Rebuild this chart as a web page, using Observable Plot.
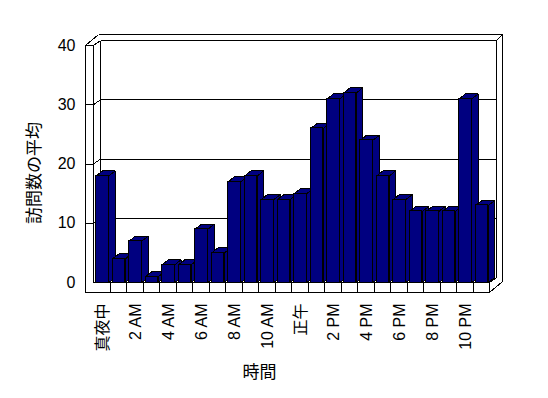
<!DOCTYPE html>
<html><head><meta charset="utf-8">
<script src="https://cdn.jsdelivr.net/npm/d3@7"></script>
<script src="https://cdn.jsdelivr.net/npm/@observablehq/plot@0.6"></script>
<style>html,body{margin:0;padding:0;background:#fff}</style>
</head><body><div id="chart"></div>
<script>
// ---- data ----
const hourIndex = d3.range(24);
const visits = [18, 4, 7, 1, 3, 3, 9, 5, 17, 18, 14, 14, 15, 26, 31, 32, 24, 18, 14, 12, 12, 12, 31, 13];
const xTickLabels = ["真夜中", "2 AM", "4 AM", "6 AM", "8 AM", "10 AM", "正午", "2 PM", "4 PM", "6 PM", "8 PM", "10 PM"];
const yTicks = [0, 10, 20, 30, 40];
const yTitle = "訪問数の平均";
const xTitle = "時間";

// ---- layout ----
const W = 548, H = 398;
const mL = 93, mR = 59, mT = 45, mB = 116;
const xDom = [0, 24], yDom = [0, 40];
const kx = (xDom[1] - xDom[0]) / (W - mL - mR);   // data per px
const ky = (yDom[1] - yDom[0]) / (H - mT - mB);
const P = (x, y, px = 0, py = 0) => [x + px * kx, y - py * ky];

const NAVY = "#000080";
const barDepth = [6.4, -5];
const inner = [7, -5], outer = [13, -11], wallT = -8, floorT = 10;

// bars
const bars = hourIndex.map(i => ({i, v: visits[i], x1: i + 0.16, x2: i + 0.93}));
const sides = [], tops = [];
bars.forEach(b => {
  const s = [P(b.x2, 0), P(b.x2, b.v), P(b.x2, b.v, ...barDepth), P(b.x2, 0, ...barDepth), P(b.x2, 0)];
  s.forEach(([x, y]) => sides.push({id: b.i, x, y}));
  const t = [P(b.x1, b.v), P(b.x2, b.v), P(b.x2, b.v, ...barDepth), P(b.x1, b.v, ...barDepth), P(b.x1, b.v)];
  t.forEach(([x, y]) => tops.push({id: b.i, x, y}));
});

// frame segments
const X0 = xDom[0], X1 = xDom[1], Y0 = yDom[0], Y1 = yDom[1];
const seg = (a, b) => { const [x1, y1] = P(...a), [x2, y2] = P(...b); return {x1, y1, x2, y2}; };
const backSegs = [
  seg([X0, Y0, wallT, floorT], [X0, Y1, wallT, 0]),
  seg([X0, Y0, 0, 0], [X0, Y1, 0, 0]),
  seg([X0, Y1, wallT, 0], [X0, Y1, 0, 0]),
  seg([X0, Y1, wallT, 0], [X0, Y1, wallT + outer[0], outer[1]]),
  seg([X0, Y1, wallT + outer[0], outer[1]], [X1, Y1, ...outer]),
  seg([X0, Y1, 0, 0], [X0, Y1, ...inner]),
  seg([X0, Y1, ...inner], [X1, Y1, ...inner]),
  seg([X0, Y1, ...inner], [X0, Y0, ...inner]),
  seg([X1, Y1, ...inner], [X1, Y0, ...inner]),
  seg([X1, Y1, ...inner], [X1, Y1, ...outer]),
  seg([X1, Y1, ...outer], [X1, Y0, outer[0], floorT + outer[1]]),
];
yTicks.filter(v => v > Y0 && v < Y1).forEach(v => {
  backSegs.push(seg([X0, v, wallT, 0], [X0, v, 0, 0]));
  backSegs.push(seg([X0, v, 0, 0], [X0, v, ...inner]));
  backSegs.push(seg([X0, v, ...inner], [X1, v, ...inner]));
});
const floorSegs = [
  seg([X0, Y0, 0, 0], [X1, Y0, 0, 0]),
  seg([X0, Y0, wallT, floorT], [X1, Y0, 0, floorT]),
  seg([X1, Y0, 0, 0], [X1, Y0, 0, floorT]),
  seg([X1, Y0, 0, floorT], [X1, Y0, outer[0], floorT + outer[1]]),
  seg([X1, Y0, 0, 0], [X1, Y0, ...inner]),
];
d3.range(1, 24).forEach(k => floorSegs.push(seg([k, Y0, 0, 0], [k, Y0, 0, floorT])));

const font = "'Liberation Sans', Arial, 'Noto Sans CJK JP', sans-serif";
const crisp = "crispEdges";

const chart = Plot.plot({
  width: W, height: H,
  marginLeft: mL, marginRight: mR, marginTop: mT, marginBottom: mB,
  x: {domain: xDom, axis: null},
  y: {domain: yDom, axis: null},
  style: {background: "#fff", color: "#000", fontFamily: font, fontSize: "16px"},
  marks: [
    Plot.link(backSegs, {x1: "x1", y1: "y1", x2: "x2", y2: "y2", stroke: "#000", strokeWidth: 1, shapeRendering: crisp}),
    Plot.line(sides, {x: "x", y: "y", z: "id", fill: NAVY, stroke: "#000", strokeWidth: 1, strokeLinejoin: "miter", shapeRendering: crisp}),
    Plot.line(tops, {x: "x", y: "y", z: "id", fill: NAVY, stroke: "#000", strokeWidth: 1, strokeLinejoin: "miter", shapeRendering: crisp}),
    Plot.rect(bars, {x1: "x1", x2: "x2", y1: 0, y2: "v", fill: NAVY, stroke: "#000", strokeWidth: 1, shapeRendering: crisp}),
    Plot.link(floorSegs, {x1: "x1", y1: "y1", x2: "x2", y2: "y2", stroke: "#000", strokeWidth: 1, shapeRendering: crisp}),
    Plot.text(yTicks, {x: X0, y: d => d, text: d => String(d), dx: -18, textAnchor: "end", fontSize: 16, fill: "#000"}),
    Plot.text(xTickLabels, {x: (d, i) => 2 * i + 0.55, y: Y0, text: d => d, dy: 21, rotate: -90, textAnchor: "end", lineAnchor: "middle", fontSize: 16, fill: "#000"}),
    Plot.text([yTitle], {frameAnchor: "left", text: d => d, dx: -59, dy: 9, rotate: -90, textAnchor: "middle", fontSize: 17, fill: "#000"}),
    Plot.text([xTitle], {frameAnchor: "bottom", text: d => d, dx: -32, dy: 95, textAnchor: "middle", fontSize: 17, fill: "#000"})
  ]
});
document.getElementById("chart").appendChild(chart);
</script>
</body></html>
